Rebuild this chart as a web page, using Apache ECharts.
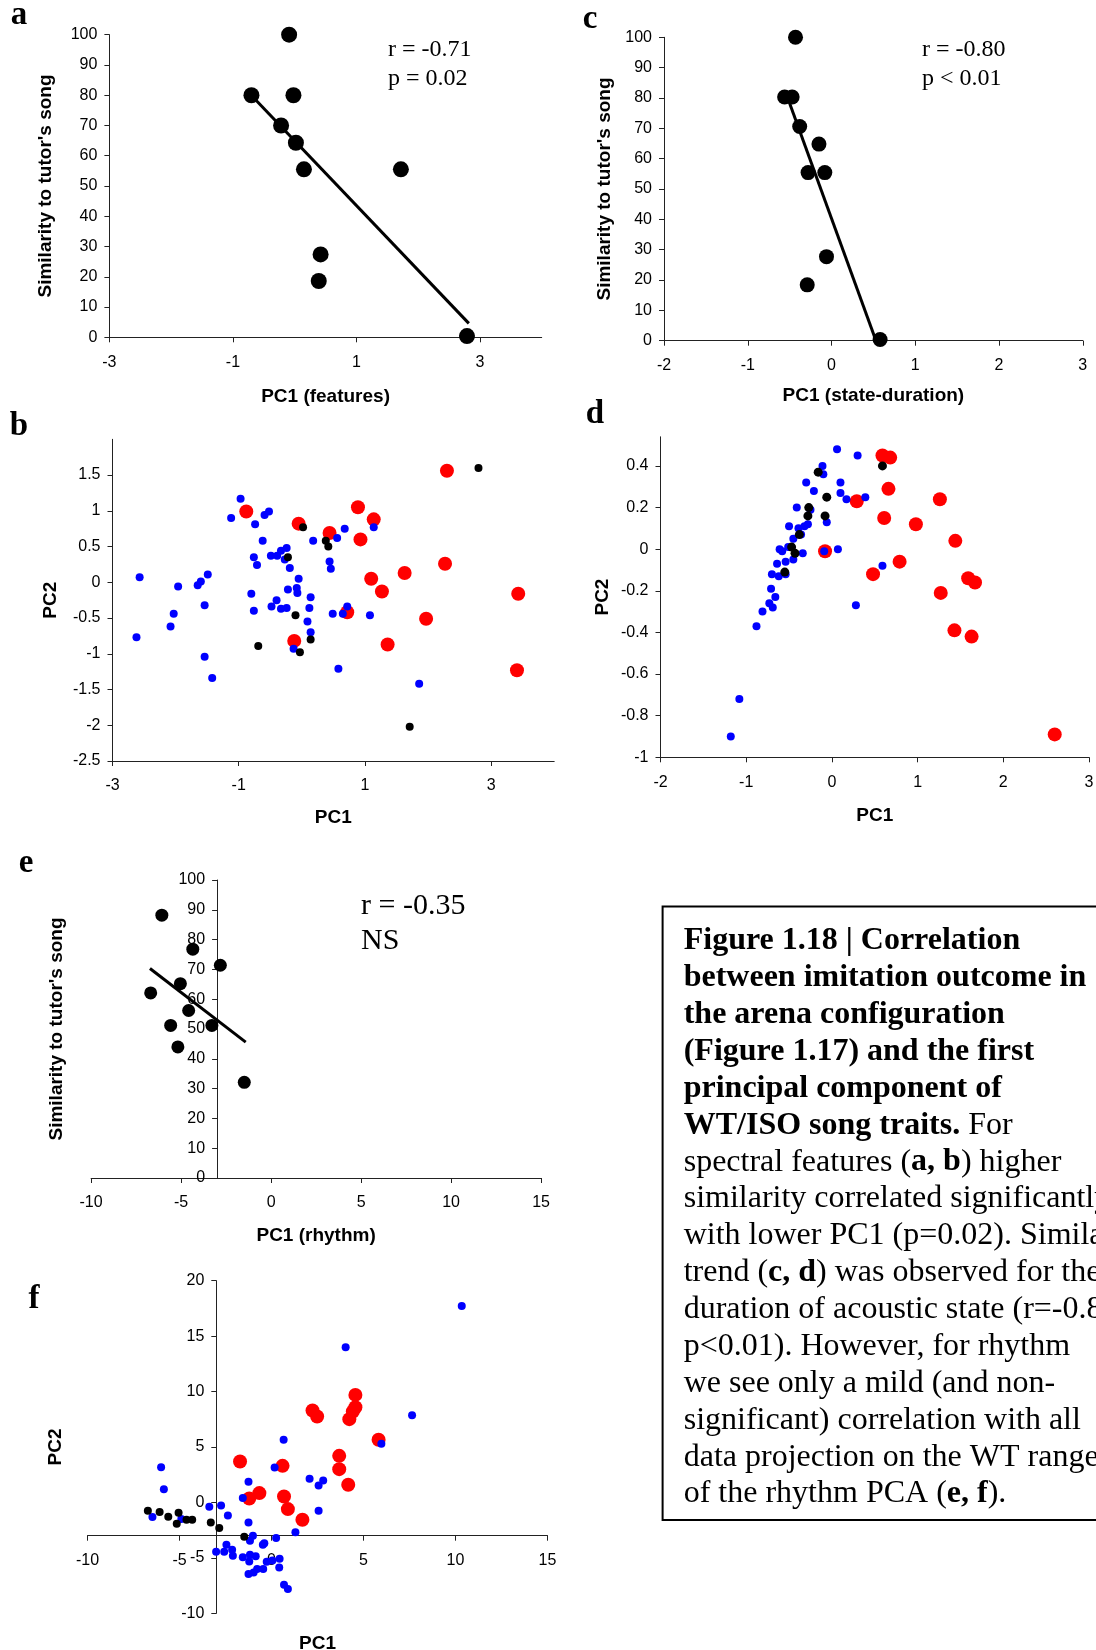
<!DOCTYPE html>
<html>
<head>
<meta charset="utf-8">
<script src="https://cdn.jsdelivr.net/npm/echarts@6/dist/echarts.min.js"></script>
<style>
  html, body { margin: 0; padding: 0; background: #fff; }
  #chart { width: 1096px; height: 1650px; }
</style>
</head>
<body>
<div id="chart"></div>
<script>
// --- panel a: similarity vs PC1 (features)
const aPoints = [[-0.09, 100], [-0.70, 80], [-0.02, 80], [-0.22, 70], [0.02, 64.3], [0.15, 55.5],
  [1.72, 55.5], [0.42, 27.4], [0.39, 18.6], [2.79, 0.4]];
const aFit = [[-0.68, 79.5], [2.82, 4.6]];
const aXTicks = [-3, -1, 1, 3];

// --- panel c: similarity vs PC1 (state-duration)
const cPoints = [[-0.43, 100], [-0.56, 80.3], [-0.47, 80.3], [-0.38, 70.6], [-0.15, 64.8], [-0.28, 55.4],
  [-0.08, 55.4], [-0.06, 27.7], [-0.29, 18.4], [0.58, 0.4]];
const cFit = [[-0.51, 79], [0.52, 0.8]];
const cXTicks = [-2, -1, 0, 1, 2, 3];

const simTicks = [0, 10, 20, 30, 40, 50, 60, 70, 80, 90, 100];

// --- panel b: PC2 vs PC1 (features)
const bBlue = [[-2.57, 0.07], [-2.62, -0.77], [-1.96, -0.06], [-2.03, -0.44], [-2.08, -0.62], [-1.65, -0.04],
  [-1.60, 0.01], [-1.49, 0.11], [-1.54, -0.32], [-1.54, -1.04], [-1.42, -1.34], [-1.12, 0.90], [-0.97, 1.17],
  [-0.74, 0.81], [-0.59, 0.94], [-0.52, 0.99], [-0.62, 0.58], [-0.76, 0.35], [-0.71, 0.24], [-0.80, -0.16],
  [-0.76, -0.40], [-0.49, 0.37], [-0.39, 0.37], [-0.33, 0.44], [-0.24, 0.48], [-0.27, 0.32], [-0.19, 0.20],
  [-0.40, -0.25], [-0.48, -0.34], [-0.33, -0.37], [-0.24, -0.36], [-0.22, -0.10], [-0.05, 0.05], [-0.08, -0.08],
  [-0.07, -0.15], [0.14, -0.21], [0.12, -0.36], [0.09, -0.55], [0.14, -0.70], [-0.13, -0.93], [0.18, 0.58],
  [0.56, 0.62], [0.68, 0.75], [0.44, 0.29], [0.46, 0.19], [0.49, -0.44], [0.65, -0.44], [0.72, -0.34],
  [0.58, -1.21], [1.14, 0.77], [1.08, -0.46], [1.86, -1.42]];
const bRed = [[-0.88, 0.99], [-0.05, 0.82], [-0.12, -0.82], [0.44, 0.69], [0.72, -0.42], [0.89, 1.05],
  [1.14, 0.88], [0.93, 0.60], [1.10, 0.05], [1.27, -0.13], [1.63, 0.13], [1.36, -0.87], [1.97, -0.51],
  [2.27, 0.26], [2.30, 1.56], [3.43, -0.16], [3.41, -1.23]];
const bBlack = [[0.02, 0.77], [-0.22, 0.35], [0.38, 0.58], [0.42, 0.50], [-0.10, -0.46], [-0.69, -0.89],
  [0.14, -0.80], [-0.03, -0.98], [2.80, 1.60], [1.71, -2.02]];
const bXTicks = [-3, -1, 1, 3];
const bYTicks = [-2.5, -2, -1.5, -1, -0.5, 0, 0.5, 1, 1.5];

// --- panel d: PC2 vs PC1 (state-duration)
const dBlue = [[0.06, 0.48], [0.30, 0.45], [-0.11, 0.40], [-0.10, 0.36], [-0.30, 0.32], [0.10, 0.32],
  [-0.21, 0.28], [0.10, 0.27], [0.17, 0.24], [0.39, 0.25], [-0.41, 0.20], [-0.25, 0.19], [-0.28, 0.12],
  [-0.06, 0.13], [-0.50, 0.11], [-0.39, 0.10], [-0.32, 0.11], [-0.36, 0.07], [-0.45, 0.05], [-0.51, 0.01],
  [-0.61, 0.00], [-0.34, -0.02], [-0.45, -0.05], [-0.54, -0.06], [-0.64, -0.07], [-0.70, -0.12],
  [-0.62, -0.13], [-0.54, -0.12], [-0.71, -0.19], [-0.66, -0.23], [-0.73, -0.26], [-0.69, -0.28],
  [-0.81, -0.30], [-0.88, -0.37], [-1.08, -0.72], [-1.18, -0.90], [-0.09, -0.01], [0.07, 0.00],
  [0.59, -0.08], [0.28, -0.27], [-0.58, -0.01]];
const dRed = [[0.59, 0.45], [0.68, 0.44], [0.66, 0.29], [0.29, 0.23], [0.61, 0.15], [0.98, 0.12],
  [1.26, 0.24], [1.44, 0.04], [0.79, -0.06], [0.48, -0.12], [-0.08, -0.01], [1.59, -0.14], [1.67, -0.16],
  [1.27, -0.21], [1.43, -0.39], [1.63, -0.42], [2.60, -0.89]];
const dBlack = [[-0.16, 0.37], [0.59, 0.40], [-0.06, 0.25], [-0.27, 0.20], [-0.28, 0.16], [-0.08, 0.16],
  [-0.38, 0.07], [-0.47, 0.01], [-0.43, -0.02], [-0.55, -0.11]];
const dXTicks = [-2, -1, 0, 1, 2, 3];
const dYTicks = [-1, -0.8, -0.6, -0.4, -0.2, 0, 0.2, 0.4];

// --- panel e: similarity vs PC1 (rhythm)
const ePoints = [[-6.07, 88.2], [-4.35, 76.8], [-2.82, 71.4], [-5.04, 65.2], [-6.69, 62.1], [-4.58, 56.2],
  [-5.58, 51.2], [-3.29, 51.2], [-5.18, 44.0], [-1.49, 32.1]];
const eFit = [[-6.73, 70.3], [-1.41, 45.6]];
const rhythmXTicks = [-10, -5, 0, 5, 10, 15];

// --- panel f: PC2 vs PC1 (rhythm)
const fBlue = [[10.34, 17.72], [4.03, 13.99], [7.64, 7.87], [5.97, 5.29], [0.66, 5.65], [0.17, 3.15],
  [2.07, 2.13], [2.56, 1.53], [2.81, 1.98], [2.56, -0.75], [-6.00, 3.18], [-5.85, 1.20], [-6.47, -1.32],
  [-4.90, -1.50], [-3.38, -0.39], [-2.74, -0.27], [-2.37, -1.17], [-1.25, 1.86], [-1.56, 0.39],
  [-1.25, -1.80], [-1.01, -3.00], [-1.17, -3.45], [-0.39, -3.69], [-0.47, -3.81], [0.25, -3.21],
  [1.30, -2.70], [-3.01, -4.44], [-2.45, -3.81], [-2.14, -4.26], [-2.10, -4.80], [-2.57, -4.44],
  [-1.56, -4.95], [-1.17, -4.71], [-0.86, -4.86], [-1.21, -5.32], [-0.26, -5.35], [0.44, -5.08],
  [0.05, -5.23], [-0.78, -6.01], [-0.45, -6.01], [-1.25, -6.46], [-0.97, -6.31], [0.42, -5.86],
  [0.68, -7.42], [0.89, -7.81]];
const fRed = [[4.56, 9.70], [4.56, 8.59], [4.42, 8.20], [4.23, 7.51], [2.23, 8.29], [2.48, 7.75],
  [5.82, 5.65], [3.68, 4.20], [3.68, 3.00], [4.17, 1.59], [-1.71, 3.69], [0.60, 3.30], [-1.21, 0.36],
  [-0.66, 0.84], [0.68, 0.54], [0.89, -0.60], [1.68, -1.56]];
const fBlack = [[-6.72, -0.75], [-6.08, -0.87], [-5.61, -1.29], [-5.15, -1.92], [-5.05, -0.93],
  [-4.62, -1.56], [-4.31, -1.56], [-3.30, -1.80], [-2.84, -2.31], [-1.48, -3.09]];
const fYTicks = [-10, -5, 0, 5, 10, 15, 20];
const rhythmCross = -3; // where the axes of e and f cross

const captionLines = [
  '{b|Figure 1.18 | Correlation}',
  '{b|between imitation outcome in}',
  '{b|the arena configuration}',
  '{b|(Figure 1.17) and the first}',
  '{b|principal component of}',
  '{b|WT/ISO song traits.} For',
  'spectral features ({b|a, b}) higher',
  'similarity correlated significantly',
  'with lower PC1 (p=0.02). Similar',
  'trend ({b|c, d}) was observed for the',
  'duration of acoustic state (r=-0.80,',
  'p<0.01). However, for rhythm',
  'we see only a mild (and non-',
  'significant) correlation with all',
  'data projection on the WT range',
  'of the rhythm PCA ({b|e, f}).'
];

const SANS = 'Liberation Sans, Arial, sans-serif';
const SERIF = 'Liberation Serif, Times New Roman, serif';
const BLUE = '#0000ff', RED = '#ff0000', BLACK = '#000000';

const grids = [
  { left: 109.4, top: 34.7, width: 432.3, height: 302.6 },   // a
  { left: 664, top: 37.3, width: 418.8, height: 303.4 },     // c
  { left: 112.5, top: 439.3, width: 441.7, height: 321.7 },  // b
  { left: 660.5, top: 436.8, width: 428.5, height: 320.5 },  // d
  { left: 91.1, top: 880, width: 450, height: 298 },         // e
  { left: 87.5, top: 1280.7, width: 460, height: 332.6 }     // f
].map(g => Object.assign({ outerBoundsMode: 'none', containLabel: false }, g));

function axis(gridIndex, min, max, ticks, isY, name, nameGap, offset) {
  return {
    type: 'value', gridIndex, min, max,
    interval: ticks[1] - ticks[0],
    position: isY ? 'left' : 'bottom',
    offset: offset || 0,
    name, nameLocation: 'middle', nameGap, nameRotate: isY ? 90 : 0,
    nameMoveOverlap: false,
    nameTextStyle: { fontFamily: SANS, fontWeight: 'bold', fontSize: 19, color: '#000' },
    splitLine: { show: false },
    axisLine: { show: true, onZero: false, lineStyle: { color: '#222', width: 1 } },
    axisTick: { show: true, inside: false, length: 5, customValues: ticks, lineStyle: { color: '#222', width: 1 } },
    axisLabel: {
      customValues: ticks, fontFamily: SANS, fontSize: 16, color: '#000',
      margin: isY ? 12 : 17, showMaxLabel: true, showMinLabel: true
    }
  };
}

// shift the rhythm axes so they cross at rhythmCross (through the grid scale)
const eYOffset = -(rhythmCross - (-10)) / 25 * grids[4].width;
const fYOffset = -(rhythmCross - (-10)) / 25 * grids[5].width;
const fXOffset = -(rhythmCross - (-10)) / 30 * grids[5].height;

const xAxes = [
  axis(0, -3, 4, aXTicks, false, 'PC1 (features)', 50),
  axis(1, -2, 3, cXTicks, false, 'PC1 (state-duration)', 46),
  axis(2, -3, 4, bXTicks, false, 'PC1', 47),
  axis(3, -2, 3, dXTicks, false, 'PC1', 49),
  axis(4, -10, 15, rhythmXTicks, false, 'PC1 (rhythm)', 48),
  axis(5, -10, 15, rhythmXTicks, false, 'PC1', 99, fXOffset)
];
const yAxes = [
  axis(0, 0, 100, simTicks, true, "Similarity to tutor's song", 54),
  axis(1, 0, 100, simTicks, true, "Similarity to tutor's song", 50),
  axis(2, -2.5, 2, bYTicks, true, 'PC2', 52),
  axis(3, -1, 0.54, dYTicks, true, 'PC2', 48),
  axis(4, 0, 100, simTicks, true, "Similarity to tutor's song", 151, eYOffset),
  axis(5, -10, 20, fYTicks, true, 'PC2', 151, fYOffset)
];

function dots(idx, data, color, size) {
  return { type: 'scatter', xAxisIndex: idx, yAxisIndex: idx, data, symbolSize: size,
    itemStyle: { color, opacity: 1 }, z: 3 };
}
function fit(idx, data) {
  return { type: 'line', xAxisIndex: idx, yAxisIndex: idx, data, symbol: 'none',
    lineStyle: { color: '#000', width: 3 }, z: 2 };
}

const series = [
  dots(0, aPoints, BLACK, 16), fit(0, aFit),
  dots(1, cPoints, BLACK, 15), fit(1, cFit),
  dots(2, bRed, RED, 14), dots(2, bBlue, BLUE, 8), dots(2, bBlack, BLACK, 8),
  dots(3, dRed, RED, 14), dots(3, dBlue, BLUE, 8), dots(3, dBlack, BLACK, 9),
  dots(4, ePoints, BLACK, 13), fit(4, eFit),
  dots(5, fRed, RED, 14), dots(5, fBlue, BLUE, 8), dots(5, fBlack, BLACK, 8)
];

function label(text, x, y, size, bold) {
  return { type: 'text', x, y, silent: true,
    style: { text, fontFamily: SERIF, fontSize: size, fontWeight: bold ? 'bold' : 'normal',
      fill: '#000', verticalAlign: 'middle', align: bold ? 'center' : 'left' } };
}

const graphics = [
  label('a', 19, 15.5, 33, true), label('b', 19, 426, 33, true),
  label('c', 590, 19.5, 33, true), label('d', 595, 414, 33, true),
  label('e', 26, 863, 33, true), label('f', 34, 1299, 33, true),
  label('r = -0.71', 388, 49.5, 24), label('p = 0.02', 388, 79, 24),
  label('r = -0.80', 922, 49.5, 24), label('p < 0.01', 922, 79, 24),
  label('r = -0.35', 361, 906.5, 30), label('NS', 361, 941.5, 30),
  { type: 'rect', silent: true, shape: { x: 662.6, y: 906.6, width: 470, height: 613.4 },
    style: { fill: 'none', stroke: '#000', lineWidth: 2 } }
];
captionLines.forEach((t, i) => {
  graphics.push({ type: 'text', x: 683.7, y: 941 + i * 36.87, silent: true,
    style: { text: t, fontFamily: SERIF, fontSize: 32, fill: '#000', verticalAlign: 'middle', align: 'left',
      rich: { b: { fontFamily: SERIF, fontSize: 32, fontWeight: 'bold', fill: '#000' } } } });
});

const chart = echarts.init(document.getElementById('chart'), null, { renderer: 'canvas' });
chart.setOption({
  animation: false,
  backgroundColor: '#fff',
  grid: grids,
  xAxis: xAxes,
  yAxis: yAxes,
  series,
  graphic: graphics
});
</script>
</body>
</html>
